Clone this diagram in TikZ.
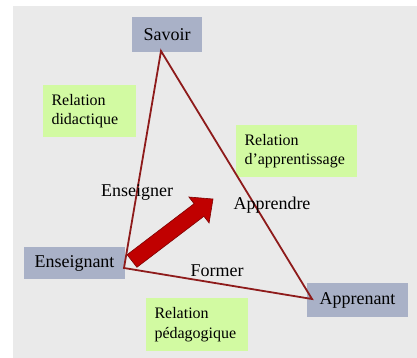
\documentclass[tikz,border=0pt]{standalone}
\usepackage{fontspec}
\setmainfont{Liberation Serif}
\definecolor{slide}{HTML}{EAEAEA}
\definecolor{rolebox}{HTML}{A9B1C7}
\definecolor{relbox}{HTML}{D2FAA2}
\definecolor{edgered}{HTML}{8E1B1B}
\definecolor{arrowred}{HTML}{C00000}
\definecolor{arrowedge}{HTML}{7E0000}
\begin{document}
\begin{tikzpicture}[x=1pt,y=-1pt,
  role/.style={fill=rolebox, inner sep=0pt, font=\fontsize{18}{21}\selectfont, text=black},
  relation/.style={fill=relbox, inner xsep=8.5pt, inner ysep=0pt, align=left,
    font=\fontsize{16}{19.5}\selectfont, text=black},
  verb/.style={inner sep=0pt, font=\fontsize{18}{21}\selectfont, text=black},
  edge/.style={draw=edgered, line width=1.8pt, line join=miter}]
  % page and slide background
  \useasboundingbox (0,0) rectangle (417,358);
  \fill[white] (0,0) rectangle (417,358);
  \fill[slide] (13,6) rectangle (417,358);

  % the three poles
  \node[role, minimum width=70pt, minimum height=35pt] (savoir) at (167,34.5) {Savoir};
  \node[role, minimum width=101pt, minimum height=32pt] (ens) at (74.5,263) {Enseignant};
  \node[role, minimum width=101pt, minimum height=34pt] (app) at (357.5,300) {Apprenant};

  % the three relations
  \node[relation, text width=76pt, minimum height=52pt] (did) at (89.5,111) {Relation\\didactique};
  \node[relation, text width=104pt, minimum height=52pt] (appr) at (296.5,151) {Relation\\d’apprentissage};
  \node[relation, text width=85pt, minimum height=53pt] (peda) at (197,324.5) {Relation\\pédagogique};

  % triangle corners
  \coordinate (vS) at (161,51);
  \coordinate (vE) at (124,268);
  \coordinate (vA) at (312,299);
  \draw[edge] (vS) -- (vE) -- (vA) -- cycle;

  % verbs along the sides
  \node[verb] (enseigner) at (137,192) {Enseigner};
  \node[verb] (apprendre) at (272,205) {Apprendre};
  \node[verb] (former) at (217,271) {Former};

  % thick arrow from the teacher into the triangle
  \filldraw[fill=arrowred, draw=arrowedge, line width=0.6pt, line join=miter]
    (136.9,267.3) -- (203.9,216.3) -- (209.1,223.0) -- (213,199)
    -- (188.9,197.0) -- (194.1,203.7) -- (127.1,254.7) -- cycle;
\end{tikzpicture}
\end{document}
